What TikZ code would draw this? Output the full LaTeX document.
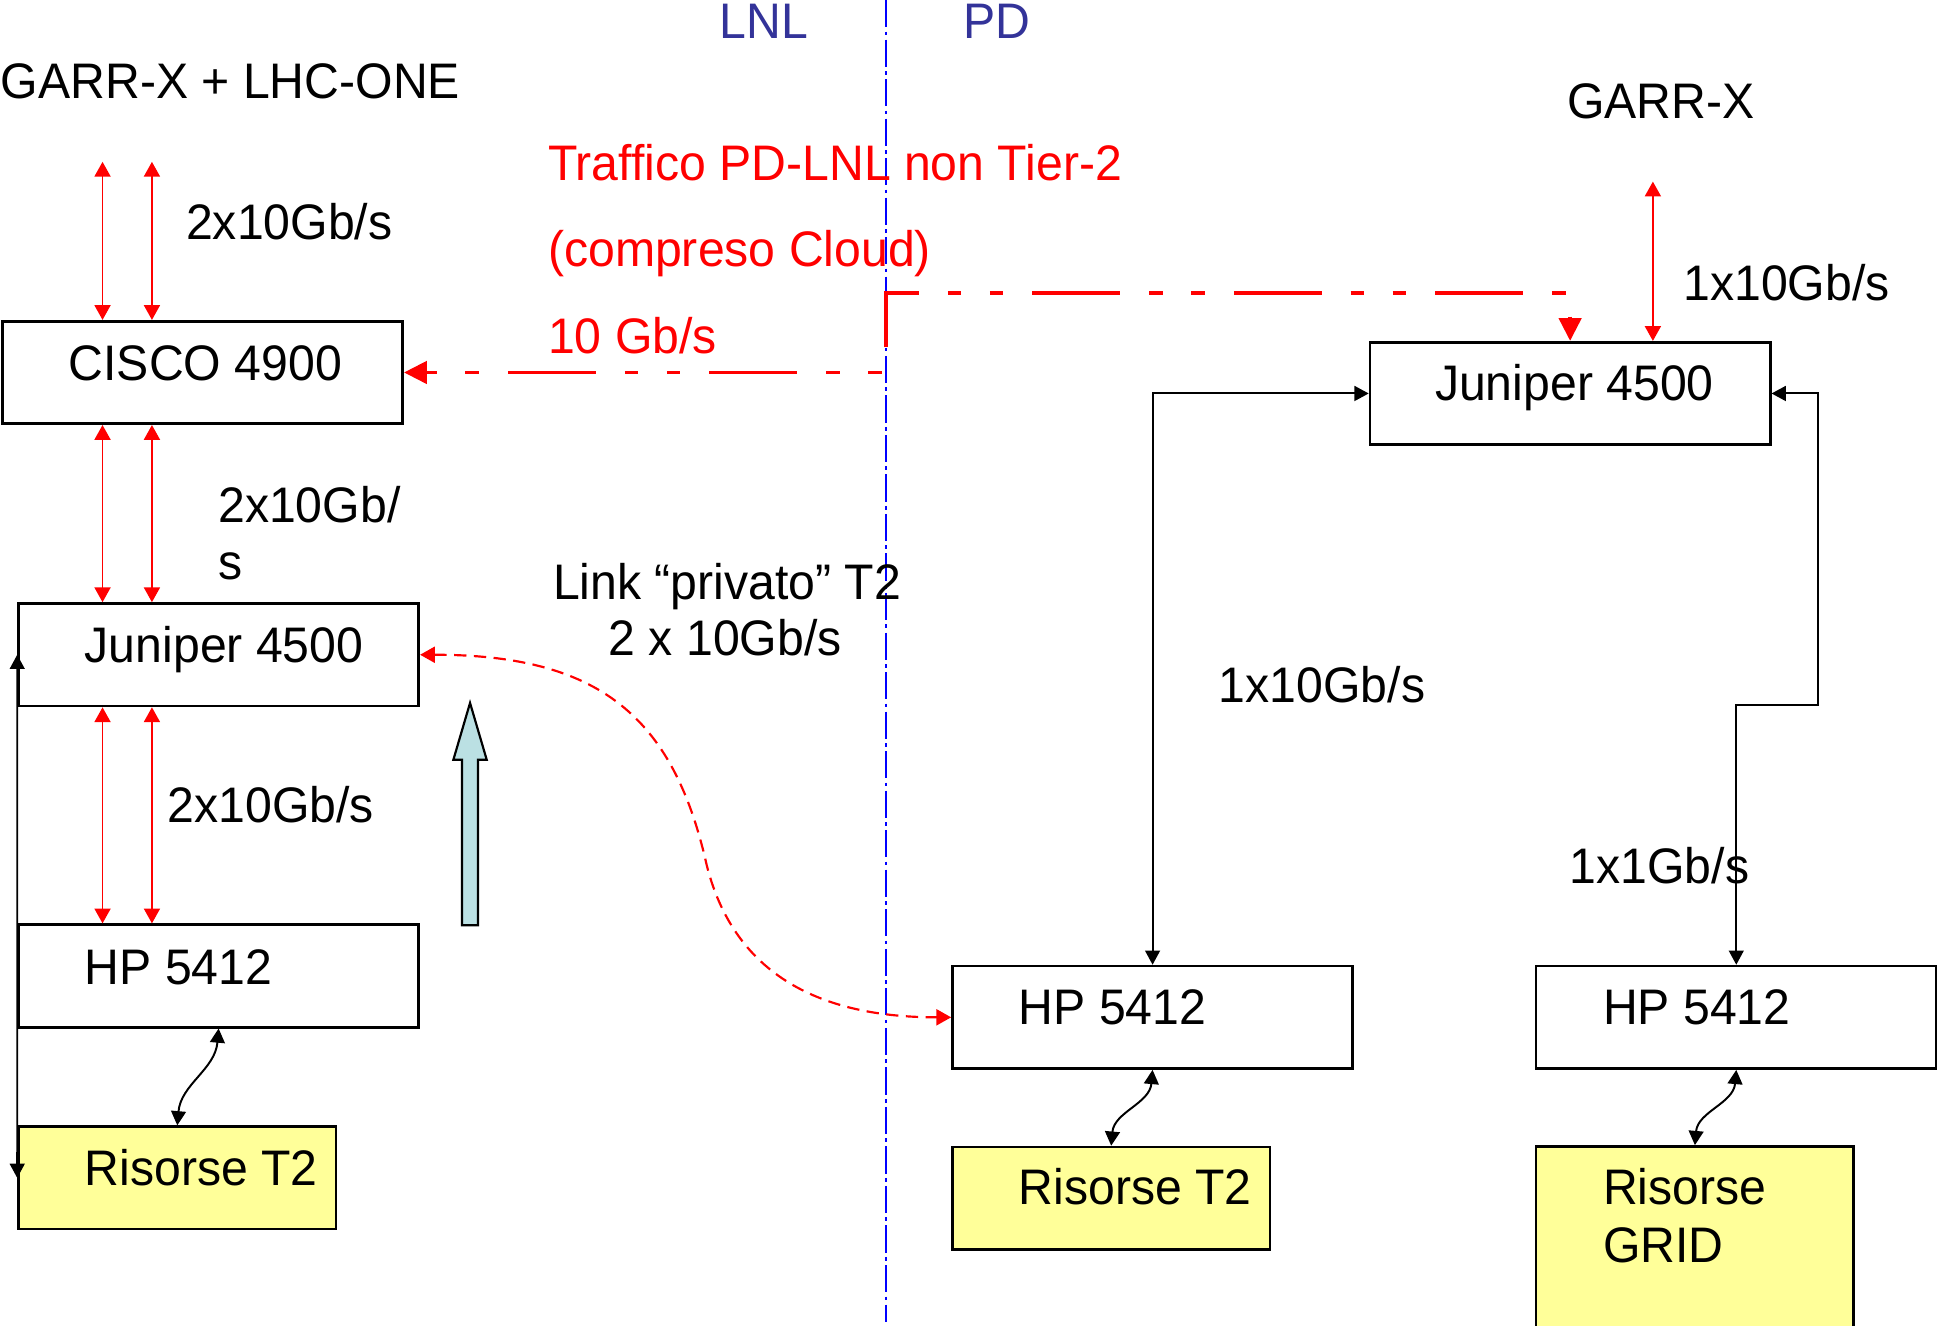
\documentclass[tikz,border=0pt]{standalone}
\usepackage{fontspec}
\setmainfont{Liberation Sans}[FakeStretch=0.965]
\usepackage{xcolor}
\usetikzlibrary{arrows.meta}
\definecolor{sideblue}{HTML}{333399}
\definecolor{resyellow}{HTML}{FFFF99}
\definecolor{bigcyan}{HTML}{BBE0E3}

\begin{document}
\begin{tikzpicture}[y=-1cm,
  font=\fontsize{11.5}{13.4}\selectfont,
  box/.style={draw, line width=0.6pt, inner sep=0pt, minimum width=3.24cm, minimum height=0.83cm},
  res/.style={box, fill=resyellow, minimum width=2.57cm},
  txt/.style={inner sep=0pt, anchor=base west},
  redlink/.style={red, line width=0.4pt, <->, >={Triangle[length=1.2mm,width=1.3mm]}},
  blklink/.style={black, line width=0.45pt, <->, >={Triangle[length=1.15mm,width=1.2mm]}},
  cloudlink/.style={red, line width=0.9pt, dash pattern=on 1.1mm off 2.3mm on 1.1mm off 2.35mm on 7.1mm off 2.35mm, dash phase=0.2mm, <->, >={Triangle[length=1.85mm,width=1.8mm]}},
  privlink/.style={red, line width=0.5pt, dash pattern=on 1mm off 0.6mm, <->, >={Triangle[length=1.2mm,width=1.3mm]}}]

\useasboundingbox (0,0) rectangle (15.68,10.73);

\node[box] (cis) at (1.64,3.015) {};
\node[box] (jun1) at (1.77,5.30) {};
\node[box] (hp1) at (1.77,7.90) {};
\node[res] (ris1) at (1.435,9.535) {};
\node[box] (jun2) at (12.71,3.185) {};
\node[box] (hp2) at (9.33,8.235) {};
\node[box] (hp3) at (14.055,8.235) {};
\node[res] (ris2) at (8.995,9.70) {};
\node[res, minimum height=1.62cm] (ris3) at (13.72,10.09) {};

\coordinate (c1) at (0.83,1.31);
\coordinate (c2) at (1.23,1.31);
\coordinate (c3) at (13.38,1.47);
\coordinate (sep1) at (7.17,0);
\coordinate (sep2) at (7.17,10.70);

\draw[blue, line width=0.45pt, dash pattern=on 2.2mm off 0.35mm on 0.3mm off 0.35mm] (sep1) -- (sep2);

\draw[redlink] (c1) -- (c1 |- cis.north);
\draw[redlink] (c2) -- (c2 |- cis.north);
\draw[redlink] (c1 |- cis.south) -- (c1 |- jun1.north);
\draw[redlink] (c2 |- cis.south) -- (c2 |- jun1.north);
\draw[redlink] (c1 |- jun1.south) -- (c1 |- hp1.north);
\draw[redlink] (c2 |- jun1.south) -- (c2 |- hp1.north);
\draw[redlink] (c3) -- (c3 |- jun2.north);

\draw[cloudlink] (cis.east) -| (7.17,2.37) -| (jun2.north);
\draw[privlink] (jun1.east) .. controls (4.85,5.30) and (5.45,5.80) .. (5.72,7.00) .. controls (5.97,8.00) and (6.80,8.235) .. (hp2.west);

\draw[blklink] (jun1.west) -- (ris1.west);
\draw[blklink] (hp2.north) |- (jun2.west);
\draw[blklink] (jun2.east) -| (14.72,5.71) -| (hp3.north);
\draw[blklink] (hp1.south) to[out=-95,in=85] (ris1.north);
\draw[blklink] (hp2.south) to[out=-95,in=85] (ris2.north);
\draw[blklink] (hp3.south) to[out=-95,in=85] (ris3.north);

\draw[fill=bigcyan, line width=0.5pt] (3.74,7.49) -- (3.74,6.15) -- (3.67,6.15) -- (3.805,5.69) -- (3.94,6.15) -- (3.87,6.15) -- (3.87,7.49) -- cycle;

\node[txt] (tgarr1) at (0,0.80) {GARR-X + LHC-ONE};
\node[txt, sideblue] (tlnl) at (5.82,0.31) {LNL};
\node[txt, sideblue] (tpd) at (7.79,0.31) {PD};
\node[txt] (trate1) at (1.50,1.94) {2x10Gb/s};
\node[txt] (tcis) at (0.55,3.08) {CISCO 4900};
\node[txt] (trate2a) at (1.76,4.23) {2x10Gb/};
\node[txt] (trate2b) at (1.76,4.69) {s};
\node[txt] (tjun1) at (0.68,5.36) {Juniper 4500};
\node[txt] (trate3) at (1.35,6.66) {2x10Gb/s};
\node[txt] (thp1) at (0.68,7.97) {HP 5412};
\node[txt] (tris1) at (0.68,9.60) {Risorse T2};
\node[txt, red] (tcloud1) at (4.43,1.46) {Traffico PD-LNL non Tier-2};
\node[txt, red] (tcloud2) at (4.43,2.16) {(compreso Cloud)};
\node[txt, red] (tcloud3) at (4.43,2.86) {10 Gb/s};
\node[txt] (tlink1) at (4.47,4.85) {Link ``privato'' T2};
\node[txt] (tlink2) at (4.92,5.31) {2 x 10Gb/s};
\node[txt] (tgarr2) at (12.68,0.96) {GARR-X};
\node[txt] (trate4) at (13.62,2.43) {1x10Gb/s};
\node[txt] (tjun2) at (11.61,3.24) {Juniper 4500};
\node[txt] (trate5) at (9.86,5.685) {1x10Gb/s};
\node[txt] (trate6) at (12.70,7.155) {1x1Gb/s};
\node[txt] (thp2) at (8.24,8.29) {HP 5412};
\node[txt] (thp3) at (12.97,8.29) {HP 5412};
\node[txt] (tris2) at (8.24,9.75) {Risorse T2};
\node[txt] (tris3a) at (12.97,9.75) {Risorse};
\node[txt] (tris3b) at (12.97,10.22) {GRID};
\end{tikzpicture}
\end{document}
